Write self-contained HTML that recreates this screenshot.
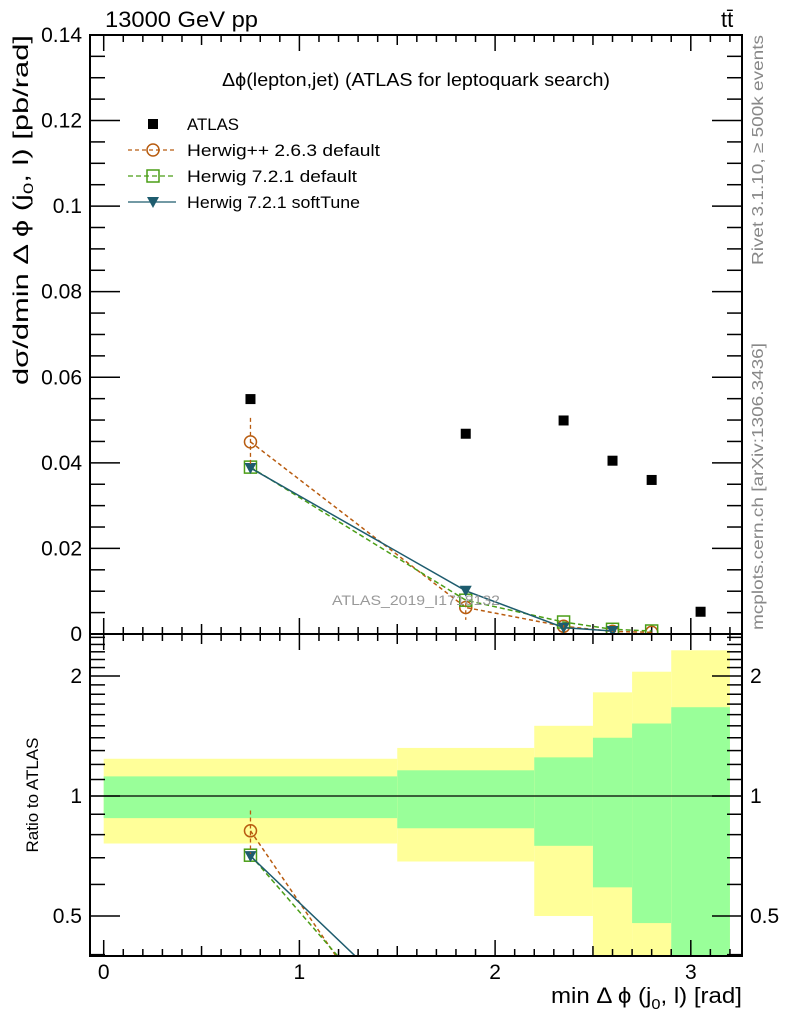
<!DOCTYPE html>
<html><head><meta charset="utf-8"><style>
html,body{margin:0;padding:0;background:#fff;overflow:hidden;width:786px;height:1024px;}
svg{display:block;font-family:"Liberation Sans",sans-serif;}
</style></head><body>
<svg id="chart" width="786" height="1024" viewBox="0 0 786 1024">
<defs>
<clipPath id="mainclip"><rect x="90" y="35" width="652" height="599"/></clipPath>
<clipPath id="ratclip"><rect x="90" y="634" width="652" height="322"/></clipPath>
</defs>
<g id="bands" clip-path="url(#ratclip)"></g>
<g id="ticks"></g>
<g id="main" clip-path="url(#mainclip)"></g>
<g id="ratio" clip-path="url(#ratclip)"></g>
<rect x="90" y="35" width="652" height="599" fill="none" stroke="#000" stroke-width="2"/>
<rect x="90" y="634" width="652" height="322" fill="none" stroke="#000" stroke-width="2"/>
<line x1="90" x2="742" y1="796" y2="796" stroke="#000" stroke-width="1.3"/>
<text x="105" y="27" font-size="22" textLength="153" lengthAdjust="spacingAndGlyphs">13000 GeV pp</text>
<text x="721" y="27" font-size="22">tt̄</text>
<text x="222" y="86" font-size="18" textLength="388" lengthAdjust="spacingAndGlyphs">Δϕ(lepton,jet) (ATLAS for leptoquark search)</text>
<text x="-385" y="0" font-size="21" textLength="350" lengthAdjust="spacingAndGlyphs" transform="translate(28,0) rotate(-90)">dσ/dmin Δ ϕ (j<tspan font-size="14" dy="5">0</tspan><tspan dy="-5">, l) [pb/rad]</tspan></text>
<text x="0" y="0" font-size="17" text-anchor="middle" transform="translate(38,795) rotate(-90)">Ratio to ATLAS</text>
<text x="551" y="1003" font-size="22" textLength="191" lengthAdjust="spacingAndGlyphs">min Δ ϕ (j<tspan font-size="15" dy="6">0</tspan><tspan dy="-6">, l) [rad]</tspan></text>
<text x="0" y="0" font-size="16" fill="#888" text-anchor="end" textLength="230" lengthAdjust="spacingAndGlyphs" transform="translate(763,35) rotate(-90)">Rivet 3.1.10, ≥ 500k events</text>
<text x="0" y="0" font-size="16" fill="#888" text-anchor="end" textLength="287" lengthAdjust="spacingAndGlyphs" transform="translate(763,343) rotate(-90)">mcplots.cern.ch [arXiv:1306.3436]</text>
<text x="332" y="605" font-size="14" fill="#999" textLength="168" lengthAdjust="spacingAndGlyphs">ATLAS_2019_I1718132</text>
<g id="legend"></g>
</svg>
<script>
const categories=[0.75,1.85,2.35,2.6,2.8,3.05];
const binEdges=[0,1.5,2.2,2.5,2.7,2.9,3.2];
const atlasValues=[0.0549,0.0468,0.0499,0.0405,0.0360,0.0052];
const herwigPPValues=[0.0449,0.0062,0.0018,0.0006,0.0004,null];
const herwigPPErrUp=[0.0056,0.0010,0.0003,0.0001,0.0001,null];
const herwigPPErrDn=[0.0056,0.0029,0.0003,0.0001,0.0001,null];
const herwig7Values=[0.0390,0.0079,0.0028,0.0011,0.0007,null];
const softTuneValues=[0.0388,0.0101,0.0015,0.0007,null,null];
const bandYellowUp=[1.24,1.32,1.50,1.82,2.05,2.32];
const bandYellowDn=[0.76,0.685,0.50,0.30,0.30,0.30];
const bandGreenUp=[1.12,1.16,1.25,1.40,1.52,1.67];
const bandGreenDn=[0.88,0.83,0.75,0.59,0.48,0.30];
const yTicks=[0,0.02,0.04,0.06,0.08,0.1,0.12,0.14];
const yTickLabels=["0","0.02","0.04","0.06","0.08","0.1","0.12","0.14"];
const xTicks=[0,1,2,3];
const rTicks=[0.5,1,2];

const NS="http://www.w3.org/2000/svg";
const X=v=>103.7+v*195.7;
const Y=v=>634-v*4279;
const R=v=>796-Math.log2(v)*120;
function mk(tag,attrs,parent){const e=document.createElementNS(NS,tag);for(const k in attrs)e.setAttribute(k,attrs[k]);parent.appendChild(e);return e;}
const gB=document.getElementById('bands'),gT=document.getElementById('ticks'),gM=document.getElementById('main'),gR=document.getElementById('ratio'),gL=document.getElementById('legend');

for(let i=0;i<categories.length;i++){
 const x0=X(binEdges[i]),x1=X(binEdges[i+1]);
 let e=mk('rect',{x:x0,y:R(bandYellowUp[i]),width:x1-x0,height:R(bandYellowDn[i])-R(bandYellowUp[i]),fill:'#ffff99'},gB);
 
 
 e=mk('rect',{x:x0,y:R(bandGreenUp[i]),width:x1-x0,height:R(bandGreenDn[i])-R(bandGreenUp[i]),fill:'#99ff99'},gB);
 
 
}
function tk(x1,y1,x2,y2){mk('line',{x1,y1,x2,y2,stroke:'#000','stroke-width':1.5},gT);}
for(let v=0;v<=3.2001;v+=0.1){
 const major=Math.abs(v-Math.round(v))<1e-6, mid=Math.abs(v*2-Math.round(v*2))<1e-6;
 const L=major?16:(mid?10:7),x=X(v);
 tk(x,634,x,634-L);tk(x,35,x,35+L);tk(x,956,x,956-L);tk(x,634,x,634+L);
}
for(let v=0;v<=0.14001;v+=0.005){
 const major=Math.abs(v/0.02-Math.round(v/0.02))<1e-6,L=major?30:15,y=Y(v);
 tk(90,y,90+L,y);tk(742,y,742-L,y);
}
yTicks.forEach((v,i)=>{const t=mk('text',{x:82,y:Y(v)+7,'font-size':21,'text-anchor':'end'},gT);t.textContent=yTickLabels[i];
 
 });
xTicks.forEach(v=>{const t=mk('text',{x:X(v),y:979,'font-size':21,'text-anchor':'middle'},gT);t.textContent=String(v);
 
 });
[0.4,0.5,0.6,0.7,0.8,0.9,1,1.1,1.2,1.3,1.4,1.5,1.6,1.7,1.8,1.9,2,2.1,2.2,2.3,2.4,2.5].forEach(v=>{
 const y=R(v);if(y<634||y>956)return;const L=rTicks.includes(v)?30:15;tk(90,y,90+L,y);tk(742,y,742-L,y);});
rTicks.forEach(v=>{let t=mk('text',{x:82,y:R(v)+7,'font-size':21,'text-anchor':'end'},gT);t.textContent=String(v);
 
 
 t=mk('text',{x:750,y:R(v)+7,'font-size':21},gT);t.textContent=String(v);
 
 });

const series=[
 {vals:herwigPPValues,color:'#b85c10',dash:'4,3',marker:'circle',name:'herwigpp-263'},
 {vals:herwig7Values,color:'#4a9e16',dash:'5,3',marker:'square',name:'herwig-721-default'},
 {vals:softTuneValues,color:'#1e5c6e',dash:'',marker:'tri',name:'herwig-721-softtune'}];
function marker(g,type,x,y,color){
 if(type==='circle')return mk('circle',{cx:x,cy:y,r:6,fill:'none',stroke:color,'stroke-width':1.5},g);
 if(type==='square')return mk('rect',{x:x-6,y:y-6,width:12,height:12,fill:'none',stroke:color,'stroke-width':1.5},g);
 return mk('path',{d:`M${x-6},${y-5}L${x+6},${y-5}L${x},${y+6}Z`,fill:color},g);
}
series.forEach(s=>{
 const pts=[],rpts=[];
 categories.forEach((c,i)=>{if(s.vals[i]!=null){pts.push([X(c),Y(s.vals[i])]);rpts.push([X(c),R(s.vals[i]/atlasValues[i])]);}});
 let e=mk('polyline',{points:pts.map(p=>p.join(',')).join(' '),fill:'none',stroke:s.color,'stroke-width':1.5,'stroke-dasharray':s.dash},gM);
 
 
 e=mk('polyline',{points:rpts.map(p=>p.join(',')).join(' '),fill:'none',stroke:s.color,'stroke-width':1.5,'stroke-dasharray':s.dash},gR);
 
 
 categories.forEach((c,i)=>{if(s.vals[i]==null)return;
  e=marker(gM,s.marker,X(c),Y(s.vals[i]),s.color);
  
  
  e=marker(gR,s.marker,X(c),R(s.vals[i]/atlasValues[i]),s.color);
  
  
 });
});
categories.forEach((c,i)=>{if(herwigPPValues[i]==null)return;
 const e=mk('line',{x1:X(c),x2:X(c),y1:Y(herwigPPValues[i]+herwigPPErrUp[i]),y2:Y(herwigPPValues[i]-herwigPPErrDn[i]),stroke:'#b85c10','stroke-width':1.3,'stroke-dasharray':'4,3'},gM);
 
 
 const r=mk('line',{x1:X(c),x2:X(c),y1:R((herwigPPValues[i]+herwigPPErrUp[i])/atlasValues[i]),y2:R((herwigPPValues[i]-herwigPPErrDn[i])/atlasValues[i]),stroke:'#b85c10','stroke-width':1.3,'stroke-dasharray':'4,3'},gR);
 
 
});
categories.forEach((c,i)=>{
 const e=mk('rect',{x:X(c)-5,y:Y(atlasValues[i])-5,width:10,height:10,fill:'#000'},gM);
 
 
});
const leg=[['ATLAS',null,52],['Herwig++ 2.6.3 default',series[0],193],['Herwig 7.2.1 default',series[1],170],['Herwig 7.2.1 softTune',series[2],173]];
leg.forEach((l,i)=>{
 const y=124+i*26;
 const g=mk('g',{},gL);
 
 
 if(!l[1]){mk('rect',{x:148,y:y-5,width:10,height:10,fill:'#000'},g);}
 else{mk('line',{x1:128,x2:176,y1:y,y2:y,stroke:l[1].color,'stroke-width':1.3,'stroke-dasharray':l[1].dash},g);marker(g,l[1].marker,153,y,l[1].color);}
 const t=mk('text',{x:187,y:y+6,'font-size':17,textLength:l[2],lengthAdjust:'spacingAndGlyphs'},g);t.textContent=l[0];
});
</script>
</body></html>
